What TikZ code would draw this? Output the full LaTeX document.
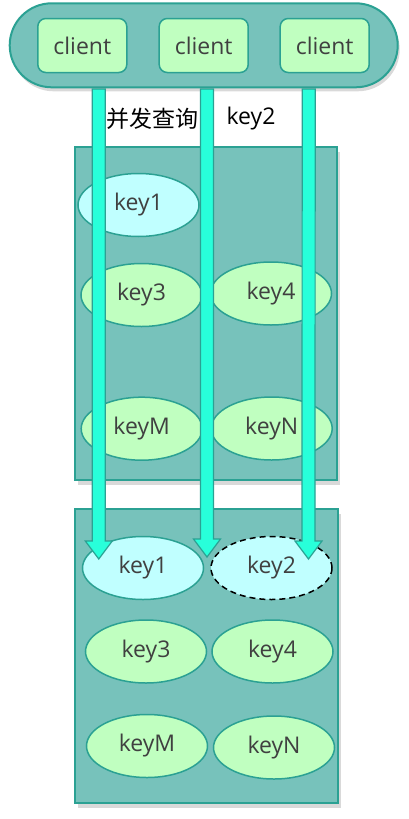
\documentclass[tikz,border=0pt]{standalone}
\usepackage{fontspec}
\setmainfont{Open Sans}
\newfontfamily\cjk{Noto Sans CJK SC}
\usepackage{xcolor}
\usetikzlibrary{shapes.geometric,shadows,calc}

\definecolor{boxfill}{HTML}{77C2BB}
\definecolor{boxline}{HTML}{2BA193}
\definecolor{keygreen}{HTML}{C0FFC0}
\definecolor{keycyan}{HTML}{C0FFFF}
\definecolor{arrowfill}{HTML}{28FFDA}
\definecolor{keytext}{HTML}{404040}

\tikzset{
  pool/.style={rectangle,draw=boxline,line width=2pt,fill=boxfill,rounded corners=42pt,
    minimum width=388pt,minimum height=84pt,
    drop shadow={opacity=0.3,shadow xshift=2pt,shadow yshift=-4pt}},
  shard/.style={rectangle,draw=boxline,line width=2pt,fill=boxfill,
    drop shadow={opacity=0.3,shadow xshift=3pt,shadow yshift=-5pt}},
  client/.style={rectangle,draw=boxline,line width=1.5pt,fill=keygreen,rounded corners=8pt,
    minimum width=89pt,minimum height=54pt,text=keytext,font=\fontsize{23}{27}\selectfont},
  keynode/.style={ellipse,draw=boxline,line width=1.5pt,fill=keygreen,
    minimum width=121pt,minimum height=63pt,inner sep=0pt,text=keytext,font=\fontsize{23}{27}\selectfont},
  hitkey/.style={keynode,fill=keycyan},
  misskey/.style={keynode,fill=keycyan,draw=black,dashed,dash pattern=on 6pt off 4pt},
  arrowbody/.style={draw=boxline,line width=1.2pt,fill=arrowfill,line join=miter}
}

\newcommand{\fatarrow}[2]{%
  \draw[arrowbody] ($(#1)+(-6.5,0)$) -- ($(#2)+(-6.5,-18)$) -- ($(#2)+(-13.5,-18)$)
    -- (#2) -- ($(#2)+(13.5,-18)$) -- ($(#2)+(6.5,-18)$) -- ($(#1)+(6.5,0)$) -- cycle;}

\begin{document}
\begin{tikzpicture}[x=1pt,y=-1pt]
\useasboundingbox (0,0) rectangle (408,819);

% clients
\node (pool) at (203.7,45.3) [pool] {};
\node (c1) at (82.3,45.5) [client] {client};
\node (c2) at (203.7,45.5) [client] {client};
\node (c3) at (324.7,45.5) [client] {client};

% first shard
\node (shard1) at (206.2,313.3) [shard,minimum width=262pt,minimum height=333pt] {};
\node (a1) at (138.5,205) [hitkey] {key1};
\node (a3) at (141.5,295) [keynode] {key3};
\node (a4) at (271,293.5) [keynode] {key4};
\node (aM) at (141.7,428.7) [keynode] {keyM};
\node (aN) at (271.7,428.5) [keynode] {keyN};

% second shard
\node (shard2) at (206.8,656) [shard,minimum width=263pt,minimum height=294pt] {};
\node (b1) at (143,568) [hitkey] {key1};
\node (b2) at (271.5,568) [misskey] {key2};
\node (b3) at (146,651.5) [keynode] {key3};
\node (b4) at (272.5,651.5) [keynode] {key4};
\node (bM) at (147,746) [keynode] {keyM};
\node (bN) at (274,747.5) [keynode] {keyN};

% labels
\node (query) at (152.5,118.5) [font=\cjk\fontsize{23}{27}\selectfont] {并发查询};
\node (qkey) at (251,118.5) [font=\fontsize{23}{27}\selectfont] {key2};

% queries
\coordinate (s1) at (98.8,89);
\coordinate (s2) at (207,89);
\coordinate (s3) at (308.7,89);
\coordinate (t1) at (98.8,559);
\coordinate (t2) at (207,557);
\coordinate (t3) at (308.5,559);
\fatarrow{s1}{t1}
\fatarrow{s2}{t2}
\fatarrow{s3}{t3}
\end{tikzpicture}
\end{document}
